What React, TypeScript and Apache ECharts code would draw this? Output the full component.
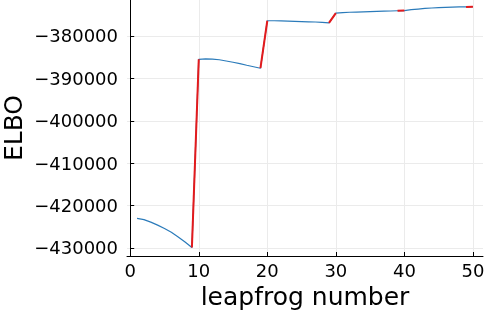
import React, { useEffect, useRef } from "react";
import * as echarts from "echarts";

const steps: number[] = Array.from({ length: 50 }, (_, i) => i + 1);
const elbo: number[] = [
  -423000, -423300, -423900, -424600, -425400, -426300, -427400, -428600, -429900,
  -385500, -385400, -385450, -385600, -385900, -386200, -386500, -386900, -387250, -387600,
  -376400, -376400, -376450, -376500, -376550, -376600, -376650, -376700, -376800, -376900,
  -374600, -374500, -374400, -374350, -374300, -374250, -374200, -374150, -374100, -374050,
  -374000, -373800, -373650, -373500, -373400, -373300, -373250, -373200, -373150, -373150,
  -373100,
];
// red segments: from step a to step b
const redSegments: [number, number][] = [
  [9, 10],
  [19, 20],
  [29, 30],
  [39, 40],
  [49, 50],
];
const xTicks: number[] = [0, 10, 20, 30, 40, 50];
const yTicks: number[] = [-430000, -420000, -410000, -400000, -390000, -380000];

const FONT = "DejaVu Sans";

export default function App() {
  const ref = useRef<HTMLDivElement>(null);
  useEffect(() => {
    if (!ref.current) return;
    const chart = echarts.init(ref.current, undefined, { renderer: "svg" });
    const blueData = steps.map((s, i) => [s, elbo[i]]);
    const redSeries = redSegments.map(([a, b]) => ({
      type: "line" as const,
      data: [
        [a, elbo[steps.indexOf(a)]],
        [b, elbo[steps.indexOf(b)]],
      ],
      symbol: "none",
      lineStyle: { color: "#e41a1c", width: 2 },
      z: 3,
    }));
    chart.setOption({
      animation: false,
      grid: { left: 127, right: 1, top: 0, bottom: 58, outerBoundsMode: "none", containLabel: false },
      xAxis: {
        type: "value",
        min: -0.47,
        max: 51.47,
        name: "leapfrog number",
        nameLocation: "middle",
        nameGap: 28,
        nameMoveOverlap: false,
        nameTextStyle: { fontFamily: FONT, fontSize: 25, color: "#000", verticalAlign: "top" },
        axisLine: { show: true, lineStyle: { color: "#000", width: 1 } },
        axisTick: { show: true, inside: true, length: 4, customValues: xTicks, lineStyle: { color: "#000" } },
        axisLabel: {
          customValues: xTicks,
          margin: 5,
          fontFamily: FONT,
          fontSize: 18,
          color: "#000",
        },
        splitLine: { show: true, lineStyle: { color: "#ebebeb", width: 1 } },
      },
      yAxis: {
        type: "value",
        min: -431890,
        max: -371510,
        name: "ELBO",
        nameLocation: "middle",
        nameGap: 102,
        nameMoveOverlap: false,
        nameTextStyle: { fontFamily: FONT, fontSize: 25, lineHeight: 24, color: "#000" },
        axisLine: { show: true, lineStyle: { color: "#000", width: 1 } },
        axisTick: { show: true, inside: true, length: 4, customValues: yTicks, lineStyle: { color: "#000" } },
        axisLabel: {
          customValues: yTicks,
          margin: 9,
          fontFamily: FONT,
          fontSize: 18,
          color: "#000",
          formatter: (v: number) => String(v).replace("-", "\u2212"),
        },
        splitLine: { show: true, lineStyle: { color: "#ebebeb", width: 1 } },
      },
      series: [
        {
          type: "line",
          data: blueData,
          symbol: "none",
          lineStyle: { color: "#2b7bba", width: 1.2 },
          z: 2,
        },
        ...redSeries,
      ],
    });
    return () => chart.dispose();
  }, []);
  return (
    <div
      ref={ref}
      style={{ position: "fixed", left: 0, top: 0, width: 484, height: 314 }}
    />
  );
}
